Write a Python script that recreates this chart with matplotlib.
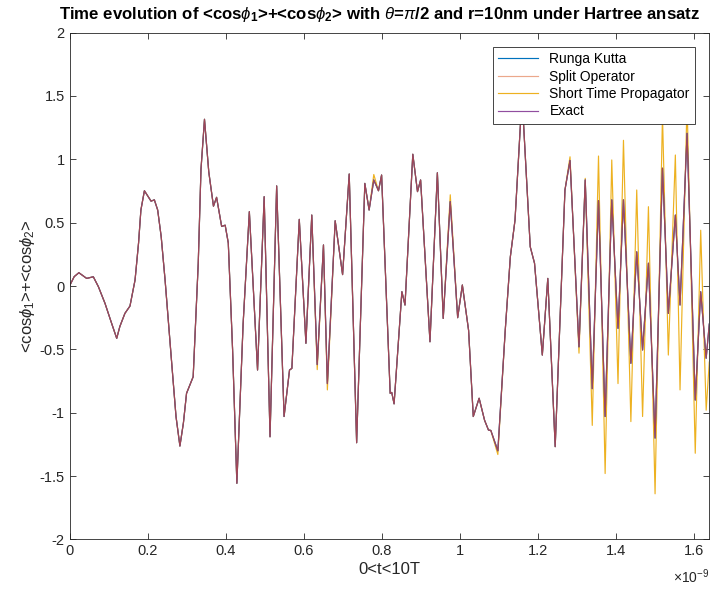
import matplotlib
matplotlib.use("Agg")
import matplotlib.pyplot as plt

plt.rcParams['font.family'] = ['Liberation Sans', 'DejaVu Sans']
plt.rcParams['mathtext.fontset'] = 'custom'
plt.rcParams['mathtext.rm'] = 'Liberation Sans'
plt.rcParams['mathtext.it'] = 'Liberation Sans:italic'
plt.rcParams['mathtext.bf'] = 'Liberation Sans:bold'

# time in units of 1e-9
t_exact = [0.000, 0.012, 0.024, 0.044, 0.061, 0.074, 0.091, 0.108, 0.121, 0.129,
           0.142, 0.155, 0.168, 0.177, 0.183,
           0.192, 0.209, 0.2175, 0.226, 0.235, 0.245, 0.262, 0.273, 0.283, 0.292,
           0.300, 0.317, 0.330, 0.337,
           0.346, 0.357, 0.369, 0.377, 0.390, 0.399, 0.407, 0.418, 0.429, 0.445,
           0.461, 0.482, 0.499, 0.514, 0.531, 0.550, 0.564, 0.570, 0.589, 0.606,
           0.621, 0.635, 0.651, 0.661, 0.681, 0.700, 0.717, 0.736, 0.757, 0.768,
           0.780, 0.792, 0.800, 0.822, 0.826, 0.832, 0.852, 0.860, 0.880, 0.892,
           0.900, 0.924, 0.943, 0.958, 0.976, 0.995, 1.007, 1.023, 1.035, 1.050,
           1.064, 1.074, 1.080, 1.098, 1.117, 1.130, 1.142, 1.160, 1.181, 1.192,
           1.212, 1.226, 1.245, 1.270, 1.283, 1.306, 1.322, 1.340, 1.356, 1.373,
           1.390, 1.406, 1.420, 1.439, 1.454, 1.469, 1.484, 1.501, 1.520, 1.535,
           1.553, 1.565, 1.583, 1.604, 1.618, 1.632, 1.640]
v_exact = [0.00, 0.074, 0.105, 0.06, 0.073, -0.005, -0.137, -0.295, -0.413, -0.32,
           -0.216, -0.158, 0.047, 0.34, 0.60,
           0.752, 0.67, 0.68, 0.60, 0.39, 0.047, -0.61, -1.03, -1.263, -1.08,
           -0.847, -0.716, 0.18, 0.92,
           1.316, 0.90, 0.63, 0.70, 0.47, 0.48, 0.34, -0.50, -1.557, -0.30,
           0.587, -0.663, 0.705, -1.19, 0.79, -1.03, -0.663, -0.65, 0.526, -0.452,
           0.56, -0.62, 0.324, -0.77, 0.515, 0.09, 0.884, -1.237, 0.81, 0.60,
           0.837, 0.752, 0.876, -0.847, -0.84, -0.93, -0.045, -0.15, 1.04, 0.745,
           0.837, -0.44, 0.894, -0.256, 0.666, -0.25, 0.008, -0.35, -1.03, -0.886,
           -1.06, -1.137, -1.14, -1.30, -0.347, 0.23, 0.52, 1.50, 0.31, 0.18,
           -0.545, 0.06, -1.268, 0.758, 0.99, -0.48, 0.837, -0.81, 0.674, -1.03,
           0.68, -0.334, 0.68, -0.61, 0.27, -0.505, 0.18, -1.20, 0.93, -0.216,
           0.56, -0.15, 1.205, -0.90, -0.045, -0.57, -0.30]

v_runge_kutta = list(v_exact)
v_split_operator = list(v_exact)
v_short_time = [0.00, 0.074, 0.105, 0.06, 0.073, -0.005, -0.137, -0.295, -0.413, -0.32,
                -0.216, -0.158, 0.047, 0.34, 0.60,
                0.752, 0.67, 0.68, 0.60, 0.39, 0.047, -0.61, -1.03, -1.263, -1.08,
                -0.847, -0.716, 0.18, 0.92,
                1.316, 0.90, 0.63, 0.70, 0.47, 0.48, 0.34, -0.50, -1.557, -0.30,
                0.587, -0.663, 0.705, -1.19, 0.79, -1.03, -0.663, -0.65, 0.526, -0.452,
                0.56, -0.66, 0.324, -0.82, 0.515, 0.09, 0.884, -1.237, 0.81, 0.60,
                0.88, 0.752, 0.876, -0.847, -0.84, -0.93, -0.045, -0.15, 1.04, 0.745,
                0.837, -0.44, 0.894, -0.256, 0.72, -0.25, 0.008, -0.35, -1.03, -0.886,
                -1.06, -1.137, -1.14, -1.33, -0.347, 0.23, 0.52, 1.50, 0.31, 0.18,
                -0.545, 0.06, -1.268, 0.758, 1.02, -0.53, 0.85, -1.10, 1.026, -1.48,
                0.995, -0.77, 1.15, -1.07, 0.758, -1.03, 0.626, -1.64, 1.35, -0.545,
                1.034, -0.82, 1.45, -1.32, 0.44, -0.98, -0.60]

labels = ['Runga Kutta', 'Split Operator', 'Short Time Propagator', 'Exact']
xticks = [0, 0.2, 0.4, 0.6, 0.8, 1.0, 1.2, 1.4, 1.6]
xticklabels = ['0', '0.2', '0.4', '0.6', '0.8', '1', '1.2', '1.4', '1.6']
yticks = [-2, -1.5, -1, -0.5, 0, 0.5, 1, 1.5, 2]
yticklabels = ['-2', '-1.5', '-1', '-0.5', '0', '0.5', '1', '1.5', '2']
title = (r'Time evolution of <cos$\phi_\mathbf{1}$>+<cos$\phi_\mathbf{2}$> '
         r'with $\theta$=$\pi$/2 and r=10nm under Hartree ansatz')

fig = plt.figure(figsize=(7.1, 5.91), dpi=100)
ax = fig.add_axes([0.0979, 0.0873, 0.9011, 0.8575])

lw = 0.85
h_stp, = ax.plot(t_exact, v_short_time, color='#EDB120', lw=lw, label=labels[2])
h_rk, = ax.plot(t_exact, v_runge_kutta, color='#0072BD', lw=lw, label=labels[0])
h_ex, = ax.plot(t_exact, v_exact, color='#7E2F8E', lw=lw, alpha=0.85, label=labels[3])
h_so, = ax.plot(t_exact, v_split_operator, color='#D95319', lw=lw, alpha=0.5, label=labels[1])
for h in (h_stp, h_rk, h_ex, h_so):
    h.set_solid_joinstyle('round')

ax.set_xlim(0, 1.640)
ax.set_ylim(-2, 2)
ax.set_xticks(xticks)
ax.set_xticklabels(xticklabels)
ax.set_yticks(yticks)
ax.set_yticklabels(yticklabels)
ax.tick_params(direction='in', top=True, right=True, length=4, width=0.6,
               colors='#262626', labelsize=10.5)
for s in ax.spines.values():
    s.set_color('#262626')
    s.set_linewidth(0.6)

ax.set_xlabel('0<t<10T', fontsize=12, color='#262626', labelpad=3)
ax.set_ylabel(r'<cos$\phi_1$>+<cos$\phi_2$>', fontsize=12, color='#262626', labelpad=2)
fig.text(380 / 710, 1 - 14 / 591, title, ha='center', va='center',
         fontsize=12.1, fontweight='bold')
ax.text(1.0, -0.055, r'$\times10^{-9}$', transform=ax.transAxes, ha='right', va='top',
        fontsize=10, color='#262626')

leg = ax.legend([h_rk, h_so, h_stp, h_ex], labels, loc='upper right', fontsize=10,
                fancybox=False, framealpha=1, edgecolor='#262626', handlelength=2.9,
                borderaxespad=1.0, labelspacing=0.25)
leg.get_frame().set_linewidth(0.6)

fig.savefig('out.png', dpi=100)
